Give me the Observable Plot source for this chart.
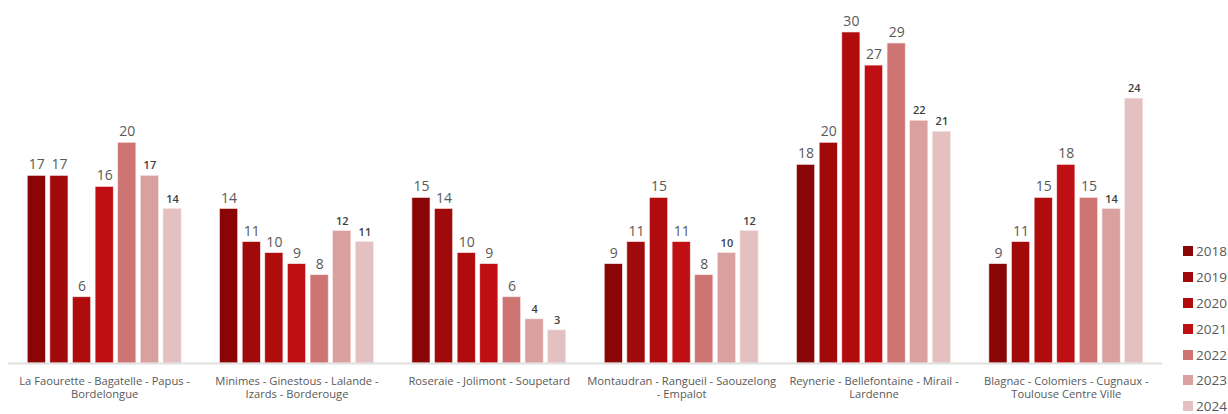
<!DOCTYPE html>
<html>
<head>
<meta charset="utf-8">
<script src="https://cdn.jsdelivr.net/npm/d3@7"></script>
<script src="https://cdn.jsdelivr.net/npm/@observablehq/plot@0.6"></script>
<style>
  html, body { margin: 0; padding: 0; background: #fff; }
  #wrap { position: relative; width: 1228px; height: 414px; font-family: "Open Sans", "Noto Sans", sans-serif; }
  #chart svg { display: block; }
  #legend { position: absolute; left: 1183px; top: 238px; }
  .li { display: flex; align-items: center; height: 25.9px; font-size: 13.5px; color: #595959; }
  .sw { width: 10px; height: 10px; margin-right: 3px; }
</style>
</head>
<body>
<div id="wrap"><div id="chart"></div><div id="legend"></div></div>
<script>
const categories = [
  "La Faourette - Bagatelle - Papus - Bordelongue",
  "Minimes - Ginestous - Lalande - Izards - Borderouge",
  "Roseraie - Jolimont - Soupetard",
  "Montaudran - Rangueil - Saouzelong - Empalot",
  "Reynerie - Bellefontaine - Mirail - Lardenne",
  "Blagnac - Colomiers - Cugnaux - Toulouse Centre Ville"
];
const tickLabels = [
  "La Faourette - Bagatelle - Papus -\nBordelongue",
  "Minimes - Ginestous - Lalande -\nIzards - Borderouge",
  "Roseraie - Jolimont - Soupetard",
  "Montaudran - Rangueil - Saouzelong\n- Empalot",
  "Reynerie - Bellefontaine - Mirail -\nLardenne",
  "Blagnac - Colomiers - Cugnaux -\nToulouse Centre Ville"
];
const years = ["2018", "2019", "2020", "2021", "2022", "2023", "2024"];
const values2018 = [17, 14, 15, 9, 18, 9];
const values2019 = [17, 11, 14, 11, 20, 11];
const values2020 = [6, 10, 10, 15, 30, 15];
const values2021 = [16, 9, 9, 11, 27, 18];
const values2022 = [20, 8, 6, 8, 29, 15];
const values2023 = [17, 12, 4, 10, 22, 14];
const values2024 = [14, 11, 3, 12, 21, 24];
const colors = ["#8A0505", "#A00A0B", "#B00C0D", "#C00F12", "#CE7574", "#D9A09F", "#E5C0C0"];

const series = [values2018, values2019, values2020, values2021, values2022, values2023, values2024];
const data = [];
categories.forEach((c, i) => {
  years.forEach((y, j) => data.push({cat: c, year: y, value: series[j][i]}));
});
const smallYears = new Set(["2023", "2024"]);

const chart = Plot.plot({
  width: 1228,
  height: 414,
  marginLeft: 8,
  marginRight: 66,
  marginTop: 32,
  marginBottom: 51,
  style: {fontFamily: "'Open Sans', 'Noto Sans', sans-serif", background: "#fff"},
  fx: {domain: categories, paddingInner: 0.2, paddingOuter: 0.1, label: null, round: false},
  x: {domain: years, paddingInner: 0.2, paddingOuter: 0, axis: null, round: false},
  y: {domain: [0, 30], axis: null},
  color: {domain: years, range: colors},
  marks: [
    Plot.axisFx({
      anchor: "bottom",
      tickSize: 0,
      tickPadding: 12,
      fontSize: 11.2,
      lineHeight: 1.2,
      fill: "#595959",
      label: null,
      tickFormat: d => tickLabels[categories.indexOf(d)],
      textAnchor: "middle"
    }),
    Plot.barY(data, {fx: "cat", x: "year", y: "value", fill: "year", stroke: "#f4e4e4", strokeWidth: 0.6}),
    Plot.text(data.filter(d => !smallYears.has(d.year)), {fx: "cat", x: "year", y: "value", text: d => String(d.value), dy: -11, fontSize: 14, fill: "#595959"}),
    Plot.text(data.filter(d => smallYears.has(d.year)), {fx: "cat", x: "year", y: "value", text: d => String(d.value), dy: -10, fontSize: 11, fill: "#404040", fontWeight: 600}),
    Plot.ruleY([0], {stroke: "#E0E0E0", strokeWidth: 2, insetLeft: -19.2, insetRight: -19.2})
  ]
});
document.getElementById("chart").appendChild(chart);

const legend = document.getElementById("legend");
years.forEach((y, i) => {
  const row = document.createElement("div");
  row.className = "li";
  row.innerHTML = `<span class="sw" style="background:${colors[i]}"></span><span>${y}</span>`;
  legend.appendChild(row);
});
</script>
</body>
</html>
